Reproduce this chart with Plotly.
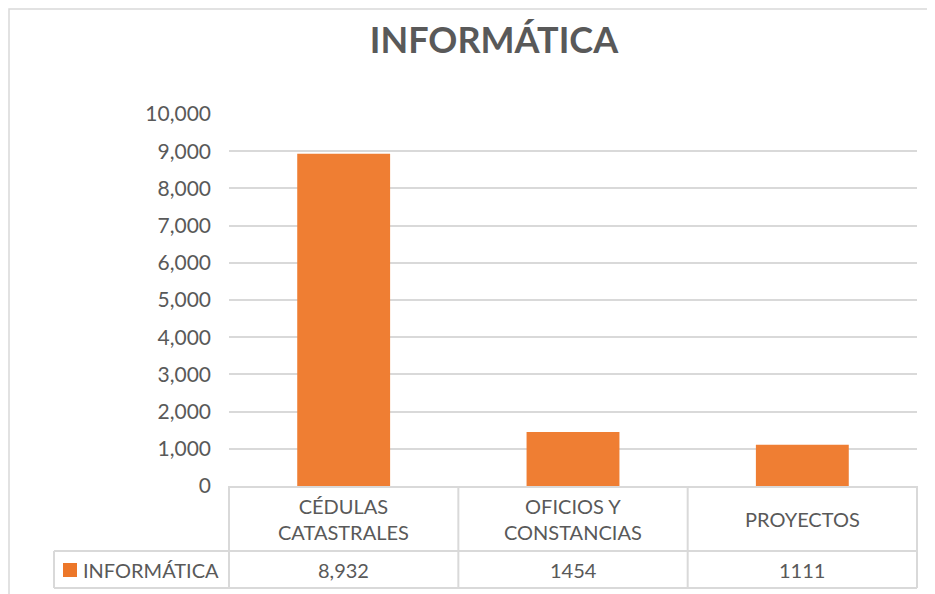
import textwrap
import plotly.graph_objects as go

series_name = "INFORMÁTICA"
categories = ["CÉDULAS CATASTRALES", "OFICIOS Y CONSTANCIAS", "PROYECTOS"]
values = [8932, 1454, 1111]
value_labels = ["8,932", "1454", "1111"]
y_ticks = [0, 1000, 2000, 3000, 4000, 5000, 6000, 7000, 8000, 9000, 10000]

FONT = "Lato"
TEXT_COLOR = "#595959"
GRID_COLOR = "#D9D9D9"
BAR_COLOR = "#EF7E33"
KEY_COLOR = "#EC7729"

# the page body adds an 8px margin, so the figure is drawn at (8, 8)
OFF = 8
W, H = 935 - OFF, 594 - OFF
# plot area in window pixels: x 229..917, y 114..486
L, R, T, B = 229 - OFF, W - (917 - OFF), 114 - OFF, H - (486 - OFF)
plot_w = W - L - R
plot_h = H - T - B


def px_x(x):
    return (x - OFF - L) / plot_w


def px_y(y):
    return (H - B - (y - OFF)) / plot_h


fig = go.Figure()
fig.add_trace(go.Bar(
    x=categories,
    y=values,
    name=series_name,
    width=0.405,
    marker=dict(color=BAR_COLOR, line=dict(width=0)),
    showlegend=False,
))

# data table under the chart
row1_bottom = px_y(551)
row2_bottom = px_y(588)
row2_mid = (row1_bottom + row2_bottom) / 2
table_left = px_x(54)
line = dict(color=GRID_COLOR, width=2)
shapes = [
    dict(type="line", xref="paper", yref="paper", x0=table_left, x1=1,
         y0=row1_bottom, y1=row1_bottom, line=line),
    dict(type="line", xref="paper", yref="paper", x0=table_left, x1=1,
         y0=row2_bottom, y1=row2_bottom, line=line),
    dict(type="line", xref="paper", yref="paper", x0=table_left, x1=table_left,
         y0=row1_bottom, y1=row2_bottom, line=line),
    # legend key of the data table
    dict(type="rect", xref="paper", yref="paper", x0=px_x(63), x1=px_x(77),
         y0=px_y(577), y1=px_y(563), fillcolor=KEY_COLOR, line=dict(width=0)),
    # outer chart border
    dict(type="rect", xref="paper", yref="paper", x0=px_x(9), x1=px_x(950),
         y0=px_y(610), y1=px_y(9), line=dict(color="#D9D9D9", width=1.5)),
]
for i in range(len(categories) + 1):
    xb = i / len(categories)
    shapes.append(dict(type="line", xref="paper", yref="paper", x0=xb, x1=xb,
                       y0=0, y1=row2_bottom, line=line))

annotations = [dict(
    x=px_x(81), xref="paper", y=row2_mid, yref="paper",
    text=series_name, showarrow=False,
    font=dict(family=FONT, size=20, color=TEXT_COLOR),
    xanchor="left", yanchor="middle",
)]
for cat, lab in zip(categories, value_labels):
    annotations.append(dict(
        x=cat, xref="x", y=(0 + row1_bottom) / 2, yref="paper",
        text="<br>".join(textwrap.wrap(cat, 12)), showarrow=False,
        font=dict(family=FONT, size=20, color=TEXT_COLOR),
        xanchor="center", yanchor="middle",
    ))
    annotations.append(dict(
        x=cat, xref="x", y=row2_mid, yref="paper",
        text=lab, showarrow=False,
        font=dict(family=FONT, size=20, color=TEXT_COLOR),
        xanchor="center", yanchor="middle",
    ))

fig.update_layout(
    width=W, height=H,
    margin=dict(l=L, r=R, t=T, b=B, autoexpand=False),
    paper_bgcolor="white",
    plot_bgcolor="white",
    font=dict(family=FONT, color=TEXT_COLOR),
    title=dict(
        text="<b>" + series_name + "</b>",
        x=(494 - OFF) / W, xanchor="center", y=(H - (40 - OFF)) / H, yanchor="middle",
        font=dict(family=FONT, size=36, color=TEXT_COLOR),
    ),
    xaxis=dict(showticklabels=False, showgrid=False, ticks="",
               showline=True, linecolor=GRID_COLOR, linewidth=2,
               range=[-0.5, 2.5]),
    yaxis=dict(range=[0, 10000], tickvals=y_ticks, tickformat=",",
               showgrid=True, gridcolor=GRID_COLOR, gridwidth=2,
               zeroline=False, showline=False, ticks="",
               ticklabelstandoff=17,
               tickfont=dict(family=FONT, size=21, color=TEXT_COLOR)),
    shapes=shapes,
    annotations=annotations,
    bargap=0.6,
)

fig.write_html("out.html")
